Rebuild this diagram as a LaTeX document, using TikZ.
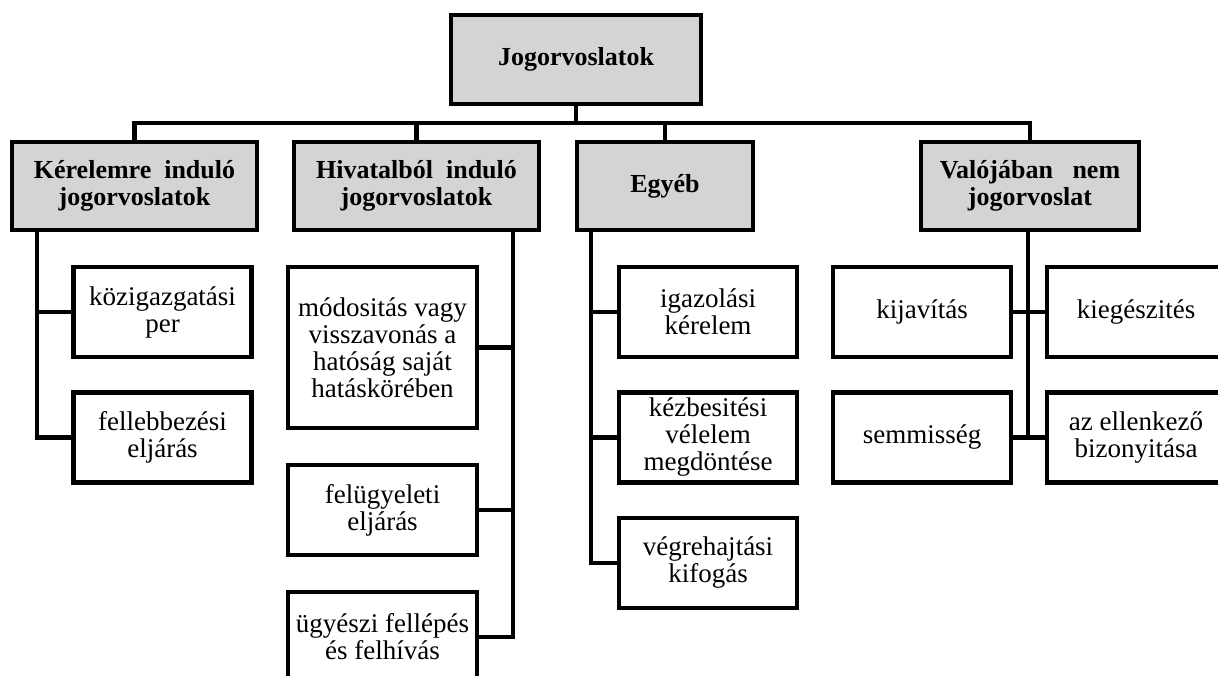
\documentclass[tikz,border=0pt]{standalone}
\usepackage{fontspec}
\setmainfont{Liberation Serif}
\usepackage{tikz}
\definecolor{head}{HTML}{D4D4D4}
\definecolor{edge}{HTML}{000000}

\begin{document}
\begin{tikzpicture}[x=1pt,y=-1pt,
  headbox/.style={draw=edge,fill=head,line width=4.5pt,align=center,inner sep=0pt,
    minimum height=88pt,font=\fontsize{26}{27}\selectfont\bfseries},
  itembox/.style={draw=edge,fill=white,line width=4.5pt,align=center,inner sep=0pt,
    minimum width=178pt,minimum height=90pt,font=\fontsize{27}{27}\selectfont},
  link/.style={draw=edge,line width=4.5pt}]
  \useasboundingbox (0,0) rectangle (1218,675);

  % Top of the tree
  \node[headbox,minimum width=250pt,minimum height=89pt] (root) at (576,59.5) {Jogorvoslatok};

  % Main groups
  \node[headbox,minimum width=245pt] (ker) at (134.5,186) {Kérelemre~ induló\\jogorvoslatok};
  \node[headbox,minimum width=245pt] (hiv) at (416.5,186) {Hivatalból~ induló\\jogorvoslatok};
  \node[headbox,minimum width=176pt] (egy) at (665,186) {Egyéb};
  \node[headbox,minimum width=218pt] (val) at (1030,186) {Valójában~~ nem\\jogorvoslat};

  % Bus between the levels
  \coordinate (bus) at (576,123);
  \draw[link] (root.south) -- (bus);
  \draw[link] (ker.north) |- (bus) -| (val.north);
  \draw[link] (hiv.north) -- (hiv.north |- bus);
  \draw[link] (egy.north) -- (egy.north |- bus);

  % Kerelemre induló
  \node[itembox] (kozig) at (162.5,312) {közigazgatási\\per};
  \node[itembox] (fell) at (162.5,437.5) {fellebbezési\\eljárás};
  \coordinate (kerspine) at (37,230);
  \draw[link] (kerspine) |- (kozig.west);
  \draw[link] (kerspine) |- (fell.west);

  % Hivatalból induló
  \node[itembox,minimum width=189pt,minimum height=161pt] (modo) at (382.5,347.5)
    {módositás vagy\\visszavonás a\\hatóság saját\\hatáskörében};
  \node[itembox,minimum width=189pt] (felu) at (382.5,510) {felügyeleti\\eljárás};
  \node[itembox,minimum width=189pt] (ugy) at (382.5,637) {ügyészi fellépés\\és felhívás};
  \coordinate (hivspine) at (513,230);
  \draw[link] (hivspine) |- (modo.east);
  \draw[link] (hivspine) |- (felu.east);
  \draw[link] (hivspine) |- (ugy.east);

  % Egyéb
  \node[itembox] (igaz) at (708,312) {igazolási\\kérelem};
  \node[itembox] (kezb) at (708,437.5) {kézbesitési\\vélelem\\megdöntése};
  \node[itembox] (vegr) at (708,563) {végrehajtási\\kifogás};
  \coordinate (egyspine) at (591,230);
  \draw[link] (egyspine) |- (igaz.west);
  \draw[link] (egyspine) |- (kezb.west);
  \draw[link] (egyspine) |- (vegr.west);

  % Valójában nem jogorvoslat
  \node[itembox] (kija) at (922,312) {kijavítás};
  \node[itembox] (kieg) at (1136,312) {kiegészités};
  \node[itembox] (semm) at (922,437.5) {semmisség};
  \node[itembox] (ellen) at (1136,437.5) {az ellenkező\\bizonyitása};
  \coordinate (valspine) at (1028,230);
  \draw[link] (valspine) |- (kija.east);
  \draw[link] (valspine) |- (kieg.west);
  \draw[link] (valspine) |- (semm.east);
  \draw[link] (valspine) |- (ellen.west);
\end{tikzpicture}
\end{document}
